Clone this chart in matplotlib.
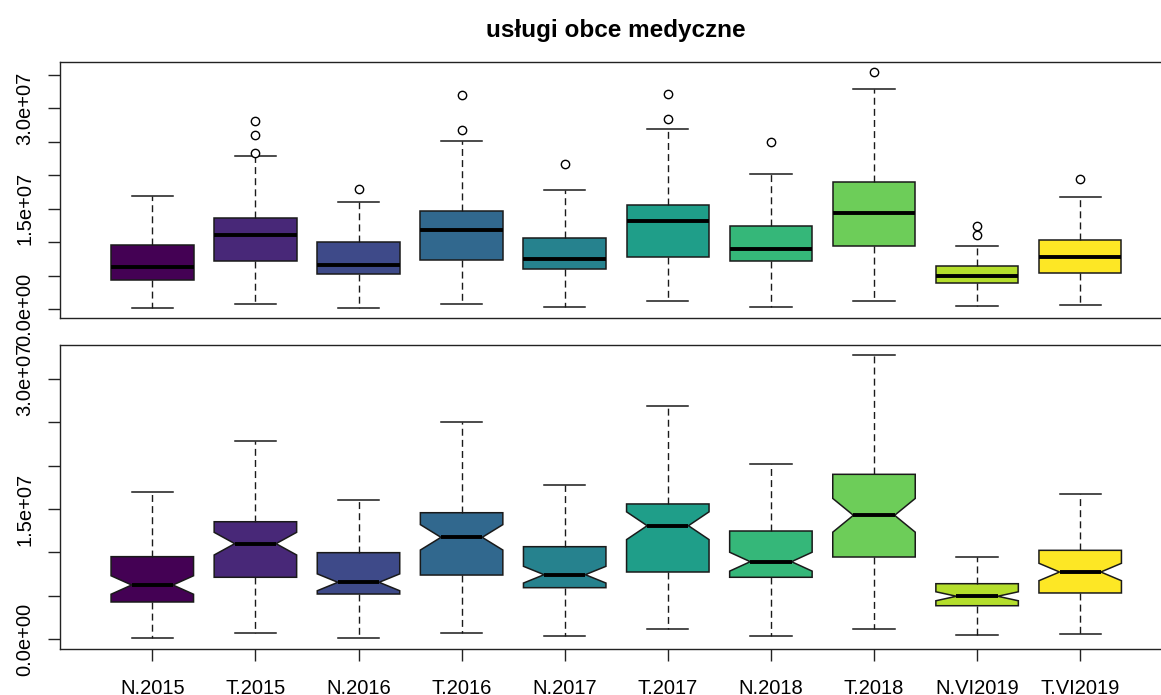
import matplotlib.pyplot as plt
import numpy as np

plt.rcParams['font.family'] = ['Liberation Sans', 'DejaVu Sans']

groups = ['N.2015', 'T.2015', 'N.2016', 'T.2016', 'N.2017',
          'T.2017', 'N.2018', 'T.2018', 'N.VI2019', 'T.VI2019']
colors = ['#440154', '#482878', '#3E4A89', '#31688E', '#26828E',
          '#1F9E89', '#35B779', '#6DCD59', '#B4DE2C', '#FDE725']

# five-number summaries
whislo = [0.15e6, 0.73e6, 0.15e6, 0.73e6, 0.35e6, 1.19e6, 0.31e6, 1.19e6, 0.46e6, 0.58e6]
q1 = [4.27e6, 7.12e6, 5.19e6, 7.38e6, 5.92e6, 7.73e6, 7.12e6, 9.46e6, 3.84e6, 5.31e6]
med = [6.23e6, 1.10e7, 6.54e6, 1.173e7, 7.42e6, 1.307e7, 8.92e6, 1.427e7, 4.93e6, 7.73e6]
q3 = [9.50e6, 1.353e7, 9.96e6, 1.457e7, 1.065e7, 1.558e7, 1.246e7, 1.90e7, 6.38e6, 1.023e7]
whishi = [1.693e7, 2.288e7, 1.604e7, 2.507e7, 1.777e7, 2.685e7, 2.019e7, 3.28e7, 9.46e6, 1.673e7]
outliers = [[], [2.33e7, 2.60e7, 2.81e7], [1.796e7], [2.676e7, 3.19e7], [2.16e7],
            [2.83e7, 3.21e7], [2.49e7], [3.54e7], [1.11e7, 1.234e7], [1.945e7]]
n_obs = 60  # approx. group size, used for the notches (R: 1.58*IQR/sqrt(n))

stats = []
for i, g in enumerate(groups):
    half = 1.58 * (q3[i] - q1[i]) / np.sqrt(n_obs)
    stats.append(dict(label=g, med=med[i], q1=q1[i], q3=q3[i],
                      whislo=whislo[i], whishi=whishi[i], fliers=outliers[i],
                      cilo=med[i] - half, cihi=med[i] + half))

W, H = 1161, 695
fig = plt.figure(figsize=(W / 100, H / 100), dpi=100)
left, right = 60, 1171
ax1 = fig.add_axes([left / W, 1 - 318 / H, (right - left) / W, 256 / H])
ax2 = fig.add_axes([left / W, 1 - 649 / H, (right - left) / W, 304 / H])

pos = np.arange(1, len(groups) + 1)
edge = '#1a1a1a'
common = dict(positions=pos, widths=0.8, patch_artist=True,
              boxprops=dict(edgecolor=edge, linewidth=1.1),
              medianprops=dict(color='black', linewidth=2.8, solid_capstyle='butt'),
              whiskerprops=dict(color=edge, linewidth=1, linestyle=(0, (5, 3))),
              capprops=dict(color=edge, linewidth=1.1),
              flierprops=dict(marker='o', markerfacecolor='white', markeredgecolor='black',
                              markersize=6, markeredgewidth=1))

b1 = ax1.bxp(stats, showfliers=True, shownotches=False, **common)
b2 = ax2.bxp(stats, showfliers=False, shownotches=True, **common)
for b in (b1, b2):
    for patch, c in zip(b['boxes'], colors):
        patch.set_facecolor(c)

xlim = (1 - (152.3 - left) / 103.1, 1 + (right - 152.3) / 103.1)
for ax in (ax1, ax2):
    ax.set_xlim(*xlim)
    for s in ax.spines.values():
        s.set_color('#222222')
        s.set_linewidth(1)
    ax.tick_params(axis='both', length=8.5, width=1, color='#222222', labelsize=14.5)
    ax.tick_params(axis='y', pad=10)

ax1.set_ylim(-1.343e6, 3.6866e7)
ax2.set_ylim(-1.154e6, 3.392e7)

t1 = np.arange(0, 3.6e7, 5e6)
ax1.set_yticks(t1)
ax1.set_yticklabels(['0.0e+00' if v == 0 else ('%.1e' % v if v in (1.5e7, 3.0e7) else '') for v in t1],
                    rotation=90, va='center')
t2 = np.arange(0, 3.1e7, 5e6)
ax2.set_yticks(t2)
ax2.set_yticklabels(['0.0e+00' if v == 0 else ('%.1e' % v if v in (1.5e7, 3.0e7) else '') for v in t2],
                    rotation=90, va='center')

ax1.set_xticks([])
ax2.set_xticks(pos)
ax2.set_xticklabels(groups)
ax2.tick_params(axis='x', pad=13)

fig.text((left + right) / 2 / W, 1 - 30 / H, 'usługi obce medyczne',
         ha='center', va='center', fontsize=17.5, fontweight='bold')

fig.savefig('out.png', dpi=100)
